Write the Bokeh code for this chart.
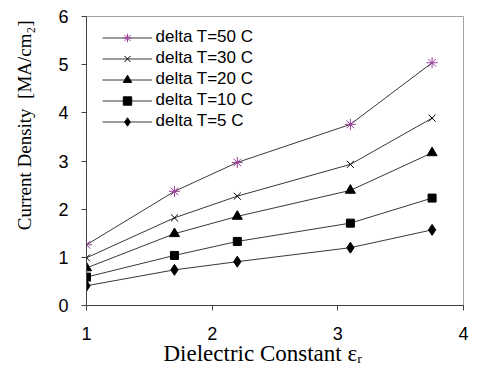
from bokeh.plotting import figure
from bokeh.models import Legend, LegendItem, FixedTicker, Title
from bokeh.embed import file_html
from bokeh.resources import INLINE

# ---- data ----
eps_r = [1.0, 1.7, 2.2, 3.1, 3.75]
dT50 = [1.26, 2.37, 2.97, 3.76, 5.04]
dT30 = [0.99, 1.82, 2.27, 2.93, 3.89]
dT20 = [0.78, 1.49, 1.85, 2.39, 3.17]
dT10 = [0.59, 1.04, 1.33, 1.71, 2.23]
dT5 = [0.41, 0.74, 0.91, 1.20, 1.57]
series_names = ["delta T=50 C", "delta T=30 C", "delta T=20 C", "delta T=10 C", "delta T=5 C"]
x_ticks = [1, 2, 3, 4]
y_ticks = [0, 1, 2, 3, 4, 5, 6]
x_title = "Dielectric Constant \u03b5\u1d63"
y_title = "Current Density\u00a0\u00a0[MA/cm\u2082]"

p = figure(width=479, height=369, x_range=(1, 4), y_range=(0, 6),
           output_backend="svg", toolbar_location=None,
           min_border_left=86, min_border_right=16, min_border_top=16, min_border_bottom=64)
p.xgrid.visible = False
p.ygrid.visible = False
p.outline_line_color = "#a0a0a0"
p.outline_line_width = 1
p.background_fill_color = "white"
p.border_fill_color = "white"

for ax in (p.xaxis[0], p.yaxis[0]):
    ax.axis_line_color = "#404040"
    ax.major_tick_line_color = "#404040"
    ax.minor_tick_line_color = None
    ax.major_tick_out = 5
    ax.major_tick_in = 0
    ax.major_label_text_font = "Liberation Sans"
    ax.major_label_text_font_size = "18px"
    ax.major_label_text_color = "black"
p.xaxis.major_label_standoff = 16
p.yaxis.major_label_standoff = 13
p.xaxis.ticker = FixedTicker(ticks=x_ticks)
p.yaxis.ticker = FixedTicker(ticks=y_ticks)

line_col = "#383838"
purple = "#9b3d9b"
items = []
specs = [
    (dT50, "asterisk", purple, purple, 11),
    (dT30, "x", "black", "black", 10),
    (dT20, "triangle", "black", "black", 10),
    (dT10, "square", "black", "black", 8),
    (dT5, "diamond", "black", "black", 11),
]
for name, (ys, mk, lc, fc, sz) in zip(series_names, specs):
    lr = p.line(eps_r, ys, line_color=line_col, line_width=1)
    sr = p.scatter(eps_r, ys, marker=mk, size=sz, line_color=lc, fill_color=fc, line_width=1)
    items.append(LegendItem(label=name, renderers=[lr, sr]))

legend = Legend(items=items, location=(15.5, 289 - 10.5 - 105))
legend.glyph_width = 50
legend.glyph_height = 21
legend.label_height = 21
legend.spacing = 0
legend.padding = 0
legend.margin = 0
legend.label_standoff = 4
legend.border_line_color = None
legend.background_fill_alpha = 0
legend.label_text_font = "Liberation Sans"
legend.label_text_font_size = "17px"
legend.label_text_color = "black"
p.add_layout(legend, "center")

# axis titles
xt = Title(text=x_title, align="left", offset=77, standoff=-8,
           text_font="Liberation Serif", text_font_size="23px",
           text_font_style="normal", text_color="black")
p.add_layout(xt, "below")
spacer = Title(text="\u00a0", standoff=18, text_font_size="1px")
p.add_layout(spacer, "left")
yt = Title(text=y_title, align="right", offset=4, standoff=0,
           text_font="Liberation Serif", text_font_size="19px",
           text_font_style="normal", text_color="black")
p.add_layout(yt, "left")

open("out.html", "w").write(file_html(p, INLINE))
